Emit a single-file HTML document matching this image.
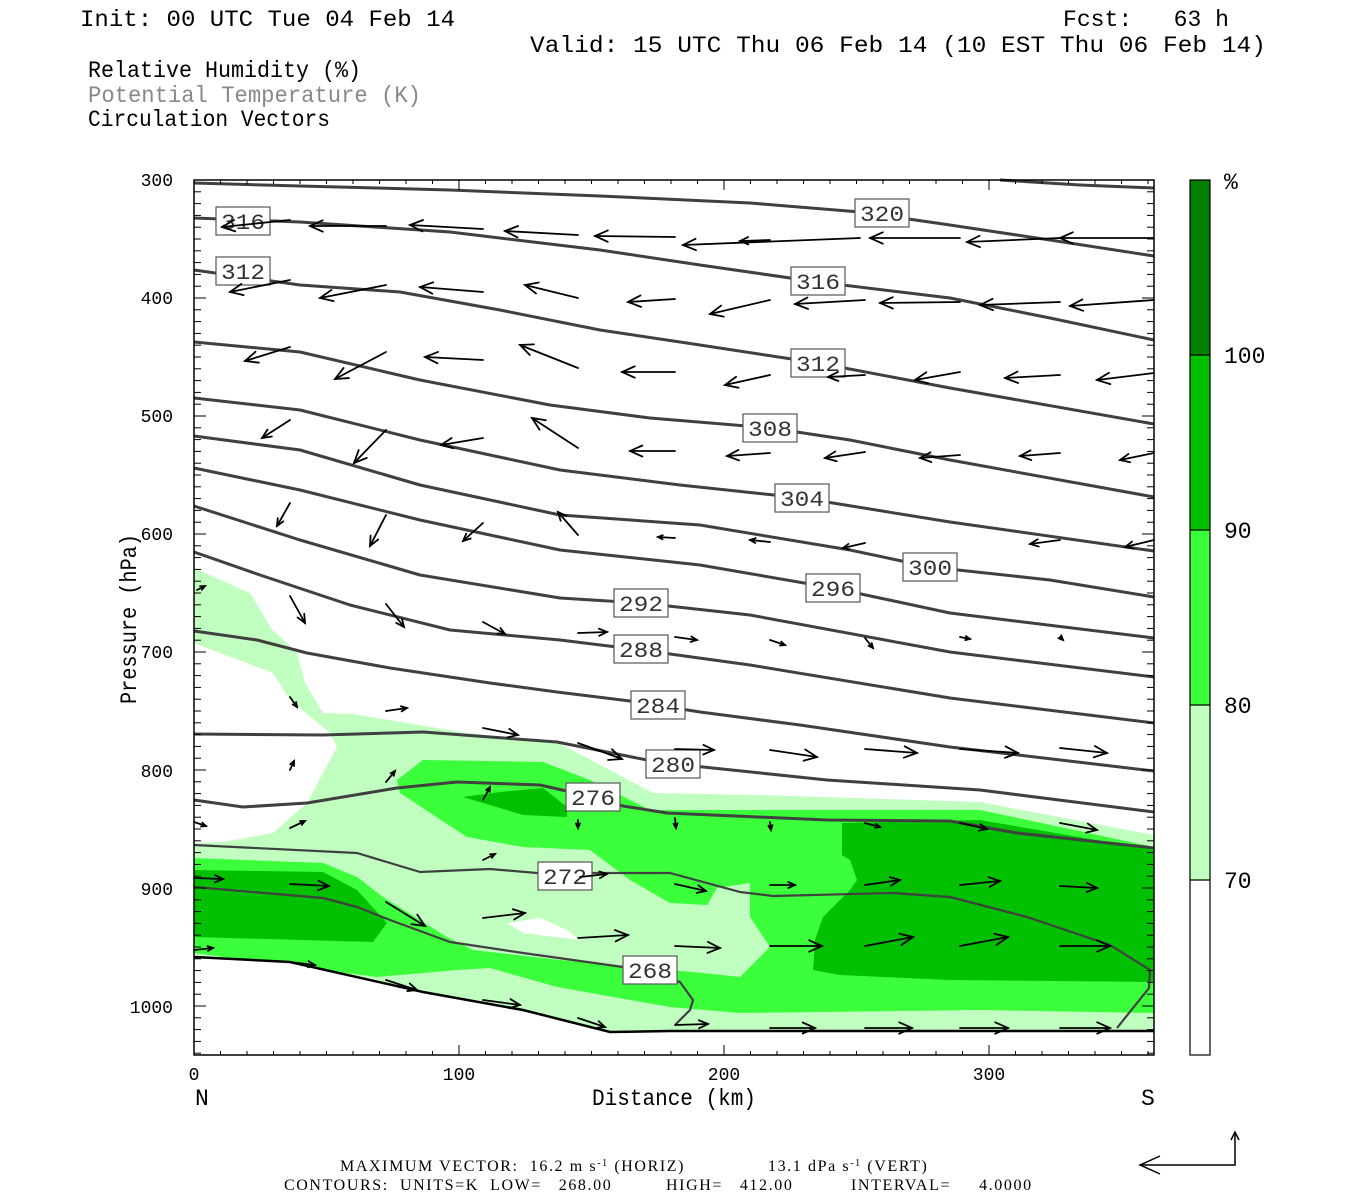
<!DOCTYPE html>
<html><head><meta charset="utf-8"><style>
html,body{margin:0;padding:0;background:#fff;}
svg{display:block;}
text{font-family:"Liberation Mono",monospace;white-space:pre;}
.t{font-size:23px;fill:#000;}
.ax{font-size:18px;}
.lb{font-size:22px;fill:#333;}
.sm{font-family:"Liberation Serif",serif;font-size:16px;letter-spacing:1.6px;}
</style></head><body>
<svg id="s" width="1350" height="1200" viewBox="0 0 1350 1200" xmlns="http://www.w3.org/2000/svg" xml:space="preserve">
<text class="t" x="80" y="26" textLength="375" lengthAdjust="spacingAndGlyphs">Init: 00 UTC Tue 04 Feb 14</text>
<text class="t" x="1063" y="26" textLength="166" lengthAdjust="spacingAndGlyphs">Fcst:   63 h</text>
<text class="t" x="530" y="52" textLength="736" lengthAdjust="spacingAndGlyphs">Valid: 15 UTC Thu 06 Feb 14 (10 EST Thu 06 Feb 14)</text>
<text class="t" x="88" y="77" textLength="273" lengthAdjust="spacingAndGlyphs">Relative Humidity (%)</text>
<text class="t" x="88" y="102" textLength="333" lengthAdjust="spacingAndGlyphs" style="fill:#888">Potential Temperature (K)</text>
<text class="t" x="88" y="126" textLength="242" lengthAdjust="spacingAndGlyphs">Circulation Vectors</text>

<g stroke="none">
<polygon fill="#c0ffc0" points="194,568 250,593 272,630 297,652 305,683 323,713 353,714 467,733 557,742 653,793 760,795 980,802 1154,835 1154,1032 194,1032"/>
<polygon fill="#fff" points="194,643 273,673 290,700 330,733 337,747 307,803 273,833 223,842 194,843"/>
<polygon fill="#fff" points="507,923 540,918 567,930 580,940 523,933"/>
<polygon fill="#3cff3c" points="194,858 323,863 357,877 383,897 447,937 473,950 560,960 703,973 740,977 770,947 750,917 750,883 717,888 707,905 670,903 630,880 590,850 523,847 467,837 400,793 397,780 423,760 543,762 590,780 650,810 727,810 980,810 1154,847 1154,1013 980,1010 740,1013 670,1007 557,987 490,968 457,970 377,977 194,953"/>
<polygon fill="#00c000" points="194,870 323,872 357,890 387,923 373,942 194,937"/>
<polygon fill="#00c000" points="463,797 500,792 543,788 567,807 567,817 523,815"/>
<polygon fill="#00c000" points="842,823 980,820 1154,850 1154,982 950,980 840,975 813,970 815,940 823,917 850,890 857,880 850,860 842,855"/>
<polygon fill="#fff" points="194,957 290,962 423,992 523,1010 610,1032 1154,1032 1154,1055 194,1055"/>
</g>

<g fill="none" stroke="#404040" stroke-width="3" stroke-linejoin="round">
<polyline points="1000,180 1080,185 1154,188"/>
<polyline points="194,183 300,186 450,190 600,196 750,203 860,212 950,225 1050,240 1154,256"/>
<polyline points="194,218 300,222 450,232 600,250 700,265 818,282 950,298 1050,318 1154,340"/>
<polyline points="194,270 300,285 400,292 500,310 600,330 700,345 818,363 950,388 1154,424"/>
<polyline points="194,342 300,352 420,380 550,405 650,418 770,428 850,440 950,460 1154,497"/>
<polyline points="194,398 300,410 420,440 560,470 680,485 802,498 950,522 1154,551"/>
<polyline points="194,436 300,450 420,485 560,515 700,525 850,550 930,567 1050,580 1154,597"/>
<polyline points="194,468 300,490 420,520 560,550 700,565 833,588 950,613 1154,638"/>
<polyline points="194,506 300,540 420,575 560,598 641,603 750,615 950,652 1154,677"/>
<polyline points="194,552 260,575 350,605 450,630 560,640 641,650 750,665 950,698 1154,723"/>
<polyline points="194,631 257,640 307,653 390,668 490,683 557,692 630,701 700,712 800,725 950,747 1154,771"/>
<polyline points="194,734 323,735 423,732 490,737 557,742 647,760 703,767 827,780 980,790 1154,812"/>
<polyline points="194,800 243,807 307,803 397,788 457,782 540,785 593,797 623,806 667,813 827,820 950,821 1017,833 1154,848"/>
<polyline stroke-width="2.2" points="194,845 357,853 420,872 490,869 537,873 593,873 670,873 740,892 773,896 893,893 950,897 1027,917 1110,945 1150,970 1149,988 1117,1028"/>
<polyline stroke-width="2.2" points="194,887 323,898 357,907 390,920 450,942 523,953 623,967 680,982 693,1000 690,1010 675,1025"/>
</g>
<polyline fill="none" stroke="#000" stroke-width="2.5" points="194,957 290,962 423,992 523,1010 610,1032 670,1031 1154,1031"/>

<g id="labels"></g>
<g id="arrows" stroke="#000" stroke-width="1.8" fill="none" stroke-linecap="round"></g>

<rect x="194" y="180" width="960" height="875" fill="none" stroke="#000" stroke-width="1.5"/>
<g id="ticks" stroke="#000" stroke-width="1"></g>

<g class="ax">
<text x="173" y="186" text-anchor="end">300</text>
<text x="173" y="304" text-anchor="end">400</text>
<text x="173" y="422" text-anchor="end">500</text>
<text x="173" y="540" text-anchor="end">600</text>
<text x="173" y="658" text-anchor="end">700</text>
<text x="173" y="777" text-anchor="end">800</text>
<text x="173" y="895" text-anchor="end">900</text>
<text x="173" y="1013" text-anchor="end">1000</text>
<text x="194" y="1080" text-anchor="middle">0</text>
<text x="459" y="1080" text-anchor="middle">100</text>
<text x="724" y="1080" text-anchor="middle">200</text>
<text x="989" y="1080" text-anchor="middle">300</text>
</g>
<text class="t" x="195" y="1105">N</text>
<text class="t" x="1141" y="1105">S</text>
<text class="t" x="592" y="1105" textLength="164" lengthAdjust="spacingAndGlyphs">Distance (km)</text>
<text class="t" transform="translate(136,704) rotate(-90)" textLength="170" lengthAdjust="spacingAndGlyphs">Pressure (hPa)</text>

<rect x="1190" y="880" width="20" height="175" fill="#fff"/>
<rect x="1190" y="705" width="20" height="175" fill="#c0ffc0"/>
<rect x="1190" y="530" width="20" height="175" fill="#3cff3c"/>
<rect x="1190" y="355" width="20" height="175" fill="#00c000"/>
<rect x="1190" y="180" width="20" height="175" fill="#008000"/>
<g stroke="#000" stroke-width="1.2">
<rect x="1190" y="180" width="20" height="875" fill="none"/>
<line x1="1190" y1="355" x2="1210" y2="355"/><line x1="1190" y1="530" x2="1210" y2="530"/>
<line x1="1190" y1="705" x2="1210" y2="705"/><line x1="1190" y1="880" x2="1210" y2="880"/>
</g>
<g class="t">
<text x="1224" y="189">%</text>
<text x="1224" y="363">100</text>
<text x="1224" y="538">90</text>
<text x="1224" y="713">80</text>
<text x="1224" y="888">70</text>
</g>

<text class="sm" x="340" y="1171">MAXIMUM VECTOR:  16.2 m s<tspan dy="-5" font-size="10">-1</tspan><tspan dy="5"> (HORIZ)</tspan></text>
<text class="sm" x="768" y="1171">13.1 dPa s<tspan dy="-5" font-size="10">-1</tspan><tspan dy="5"> (VERT)</tspan></text>
<text class="sm" x="284" y="1190">CONTOURS:  UNITS=K  LOW=   268.00</text>
<text class="sm" x="666" y="1190">HIGH=   412.00</text>
<text class="sm" x="851" y="1190">INTERVAL=     4.0000</text>
<g stroke="#000" stroke-width="1.5" fill="none">
<polyline points="1235,1132 1235,1165 1140,1165"/>
<polyline points="1160,1156 1140,1165 1160,1174"/>
<polyline points="1231,1140 1235,1132 1239,1140"/>
</g>
</svg>
<script>
var NS="http://www.w3.org/2000/svg";
function el(p,n,a){var e=document.createElementNS(NS,n);for(var k in a)e.setAttribute(k,a[k]);p.appendChild(e);return e;}
var tk=document.getElementById('ticks');
for(var p=300;p<=1040;p+=10){var y=180+(p-300)*1.18;var L=(p%100==0)?12:7;
el(tk,'line',{x1:194,y1:y,x2:194+L,y2:y});el(tk,'line',{x1:1154,y1:y,x2:1154-L,y2:y});}
for(var d=0;d<=360;d+=10){var x=194+d*2.65;var L=(d%100==0)?10:4;
el(tk,'line',{x1:x,y1:1055,x2:x,y2:1055-L});el(tk,'line',{x1:x,y1:180,x2:x,y2:180+L});}
var lbs=[[243,221,"316"],[243,271,"312"],[882,213,"320"],[818,281,"316"],[818,363,"312"],[770,428,"308"],[802,498,"304"],[930,567,"300"],[833,588,"296"],[641,603,"292"],[641,649,"288"],[658,705,"284"],[673,764,"280"],[593,797,"276"],[565,876,"272"],[650,970,"268"]];
var lg=document.getElementById('labels');
lbs.forEach(function(l){el(lg,'rect',{x:l[0]-27,y:l[1]-14,width:54,height:28,fill:'#fff',stroke:'#555','stroke-width':1.2});
var t=el(lg,'text',{x:l[0],y:l[1]+8,'text-anchor':'middle','class':'lb',textLength:44,lengthAdjust:'spacingAndGlyphs'});t.textContent=l[2];});
var A=[
[290,220,222,227],[386,226,310,226],[483,229,410,225],[578,235,505,231],[675,237,595,236],[860,238,683,245],[960,238,870,238],[1060,238,967,242],[1154,238,1060,238],[770,240,740,241],
[290,280,230,292],[386,285,320,298],[483,292,420,287],[578,298,525,285],[675,299,628,302],[770,300,710,314],[865,300,795,304],[960,302,880,303],[1060,302,980,305],[1154,300,1070,306],
[290,347,245,361],[386,352,335,379],[483,360,425,357],[578,368,520,345],[675,372,622,372],[770,375,725,385],[865,375,828,377],[960,372,915,380],[1060,375,1005,378],[1154,373,1097,380],
[290,420,262,438],[386,430,354,463],[483,438,441,445],[578,448,532,418],[675,451,630,451],[770,453,727,456],[865,452,825,458],[960,455,920,458],[1060,453,1020,456],[1154,453,1120,460],
[290,503,277,526],[386,515,370,546],[483,523,463,541],[578,535,558,512],[675,538,658,537],[770,542,750,540],[865,543,843,548],[1060,540,1030,544],[1154,540,1125,547],
[197,590,205,586],[290,596,305,623],[386,604,404,627],[483,622,505,634],[578,633,607,632],[675,637,697,640],[770,640,785,645],[865,638,873,648],[960,637,970,639],[1060,637,1063,640],
[290,697,297,707],[386,711,407,708],[483,728,518,735],[578,743,622,759],[675,749,714,750],[770,750,817,757],[865,749,917,753],[960,749,1018,753],[1060,748,1107,753],
[290,770,294,761],[386,782,395,771],[483,800,490,787],[194,822,206,826],[290,828,305,821],[578,820,578,828],[675,818,676,828],[770,822,771,830],[865,823,880,827],[960,823,987,829],[1060,823,1097,830],
[194,878,223,879],[290,884,329,886],[386,902,425,926],[483,860,495,854],[580,877,607,874],[675,884,706,891],[770,885,795,885],[865,885,900,880],[960,885,1000,881],[1060,886,1097,888],
[194,950,213,948],[483,918,525,913],[578,938,628,935],[675,946,720,948],[770,946,822,946],[865,946,913,937],[960,946,1008,937],[1060,946,1110,946],
[290,962,315,965],[386,980,417,990],[483,1000,520,1005],[578,1018,605,1027],[675,1025,708,1024],[770,1028,815,1028],[865,1028,912,1028],[960,1028,1008,1028],[1060,1028,1110,1028]];
var ag=document.getElementById('arrows');
A.forEach(function(a){var dx=a[2]-a[0],dy=a[3]-a[1],len=Math.sqrt(dx*dx+dy*dy);if(len<1)return;
var ux=dx/len,uy=dy/len,h=Math.min(14,Math.max(5,len*0.3)),c=Math.cos(0.42),s=Math.sin(0.42);
var b1x=a[2]-h*(ux*c-uy*s),b1y=a[3]-h*(uy*c+ux*s),b2x=a[2]-h*(ux*c+uy*s),b2y=a[3]-h*(uy*c-ux*s);
el(ag,'line',{x1:a[0],y1:a[1],x2:a[2],y2:a[3]});
el(ag,'polyline',{points:b1x+','+b1y+' '+a[2]+','+a[3]+' '+b2x+','+b2y});});
</script>
</body></html>
